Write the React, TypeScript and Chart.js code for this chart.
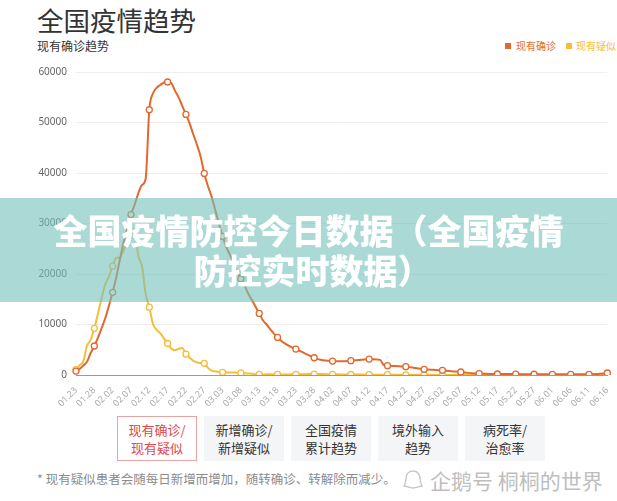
import React, { useEffect, useRef } from 'react';
import { Chart, registerables } from 'chart.js';

Chart.register(...registerables);

// ---- data ----
const START_DATE = { year: 2020, month: 1, day: 23 };
const DAY_COUNT = 146;

const tickLabels = [
  '01.23', '01.28', '02.02', '02.07', '02.12', '02.17', '02.22', '02.27', '03.03', '03.08',
  '03.13', '03.18', '03.23', '03.28', '04.02', '04.07', '04.12', '04.17', '04.22', '04.27',
  '05.02', '05.07', '05.12', '05.17', '05.22', '05.27', '06.01', '06.06', '06.11', '06.16',
];

const categories: string[] = (() => {
  const out: string[] = [];
  const d = new Date(Date.UTC(START_DATE.year, START_DATE.month - 1, START_DATE.day));
  for (let i = 0; i < DAY_COUNT; i++) {
    const mm = String(d.getUTCMonth() + 1).padStart(2, '0');
    const dd = String(d.getUTCDate()).padStart(2, '0');
    out.push(`${mm}.${dd}`);
    d.setUTCDate(d.getUTCDate() + 1);
  }
  return out;
})();

const yTicks = [0, 10000, 20000, 30000, 40000, 50000, 60000];

// 现有确诊 (daily)
const existingConfirmed = [
  // Jan 23-31
  771, 1208, 1870, 2613, 4349, 5739, 7417, 9308, 11289,
  // Feb
  13748, 16369, 19381, 22942, 26302, 28985, 31774, 33738, 35982, 37626,
  38800, 52526, 55748, 56873, 57416, 57934, 58016, 57805, 56303, 54965,
  53284, 51606, 49824, 47672, 45604, 43258, 39919, 37414, 35329,
  // Mar
  32652, 30004, 27433, 25352, 23784, 22177, 20533, 19016, 17721, 16145,
  14831, 13526, 12190, 10830, 10000, 9100, 8200, 7440, 6800, 6250,
  5800, 5450, 5130, 4800, 4450, 4100, 3750, 3420, 3150, 2950, 2850,
  // Apr
  2800, 2760, 2720, 2700, 2710, 2760, 2830, 2900, 2960, 3020,
  3090, 3160, 3120, 3080, 3000, 1950, 1840, 1800, 1760, 1720,
  1680, 1640, 1560, 1450, 1330, 1220, 1120, 1080, 1040, 1000,
  // May
  960, 920, 850, 780, 710, 650, 590, 500, 420, 360,
  310, 280, 250, 230, 215, 205, 195, 190, 185, 180,
  175, 170, 165, 160, 158, 155, 152, 150, 148, 146, 145,
  // Jun 1-16
  143, 140, 138, 136, 135, 133, 132, 130, 130, 132, 140, 155, 190, 250, 320, 400,
];

// 现有疑似 (daily)
const existingSuspected = [
  // Jan 23-31
  1072, 1965, 2684, 5794, 6973, 9239, 12167, 15238, 17988,
  // Feb
  19544, 21558, 23214, 23260, 24702, 26359, 27657, 28942, 23589, 21675,
  16067, 13435, 10109, 8969, 8228, 7264, 6242, 5248, 4922, 5206,
  5365, 4148, 3434, 2824, 2491, 2358, 2308, 1418, 851,
  // Mar
  715, 587, 520, 522, 482, 502, 458, 421, 349, 285,
  253, 147, 115, 113, 134, 128, 119, 105, 104, 106,
  118, 136, 132, 134, 159, 189, 184, 174, 168, 183, 172,
  // Apr
  153, 135, 130, 123, 119, 105, 95, 88, 80, 76,
  72, 72, 70, 67, 63, 60, 55, 50, 47, 45,
  44, 43, 40, 38, 35, 33, 30, 28, 25, 22,
  // May
  20, 18, 16, 15, 14, 13, 12, 11, 10, 10,
  9, 9, 8, 8, 8, 7, 7, 7, 6, 6,
  6, 6, 5, 5, 5, 5, 5, 4, 4, 4, 4,
  // Jun 1-16
  4, 4, 3, 3, 3, 3, 3, 3, 3, 3, 4, 5, 6, 7, 8, 9,
];

const seriesNames = ['现有确诊', '现有疑似'];
const seriesColors = ['#E2692E', '#F6BD37'];

const buttonLabels = [
  ['现有确诊/', '现有疑似'],
  ['新增确诊/', '新增疑似'],
  ['全国疫情', '累计趋势'],
  ['境外输入', '趋势'],
  ['病死率/', '治愈率'],
];

const CJK = '"Noto Sans CJK SC", "Noto Sans", sans-serif';

export default function App() {
  const canvasRef = useRef<HTMLCanvasElement | null>(null);

  useEffect(() => {
    if (!canvasRef.current) return;
    const radius = (ctx: any) => (tickLabels.includes(categories[ctx.dataIndex]) ? 3 : 0);
    const makeDataset = (idx: number, data: number[]) => ({
      label: seriesNames[idx],
      data,
      borderColor: seriesColors[idx],
      backgroundColor: seriesColors[idx],
      borderWidth: 2,
      pointRadius: radius,
      pointHoverRadius: radius,
      pointBackgroundColor: '#ffffff',
      pointBorderColor: seriesColors[idx],
      pointBorderWidth: 1.3,
      cubicInterpolationMode: 'monotone',
      fill: false,
    });
    const chart = new Chart(canvasRef.current, {
      type: 'line',
      data: {
        labels: categories,
        datasets: [makeDataset(0, existingConfirmed), makeDataset(1, existingSuspected)],
      },
      options: {
        responsive: false,
        animation: false,
        layout: { padding: { top: 8, right: 8, left: 0, bottom: 0 } },
        plugins: { legend: { display: false }, tooltip: { enabled: false } },
        scales: {
          x: {
            type: 'category',
            grid: { display: false },
            border: { display: true, color: '#9a9a9a', width: 1 },
            ticks: {
              autoSkip: false,
              minRotation: 45,
              maxRotation: 45,
              padding: 2,
              color: '#aaaaaa',
              font: { family: '"Noto Sans", sans-serif', size: 9 },
              callback: (_v: any, i: number) => (tickLabels.includes(categories[i]) ? categories[i] : ''),
            },
            afterFit: (scale: any) => {
              scale.height = 35;
            },
          },
          y: {
            min: 0,
            max: 60000,
            grid: { color: '#eeeeee', lineWidth: 1, drawTicks: false },
            border: { display: false },
            afterBuildTicks: (scale: any) => {
              scale.ticks = yTicks.map((v) => ({ value: v }));
            },
            ticks: {
              padding: 9,
              color: '#666666',
              font: { family: '"Noto Sans", sans-serif', size: 10 },
              callback: (v: any) => String(v),
            },
            afterFit: (scale: any) => {
              scale.width = 76;
            },
          },
        },
      },
    } as any);
    return () => chart.destroy();
  }, []);

  return (
    <div
      style={{
        position: 'fixed',
        left: 0,
        top: 0,
        width: 617,
        height: 501,
        background: '#ffffff',
        overflow: 'hidden',
        fontFamily: CJK,
      }}
    >
      <div style={{ position: 'absolute', left: 37, top: 2, fontSize: 26.5, color: '#333', fontWeight: 400, lineHeight: '36px', whiteSpace: 'nowrap' }}>
        全国疫情趋势
      </div>
      <div style={{ position: 'absolute', left: 37, top: 38, fontSize: 12, color: '#333', lineHeight: '16px', whiteSpace: 'nowrap' }}>
        现有确诊趋势
      </div>

      <span style={{ position: 'absolute', left: 505, top: 43, width: 6, height: 6, background: seriesColors[0] }} />
      <span style={{ position: 'absolute', left: 516, top: 39, fontSize: 10, lineHeight: '14px', color: seriesColors[0], whiteSpace: 'nowrap' }}>
        {seriesNames[0]}
      </span>
      <span style={{ position: 'absolute', left: 566, top: 43, width: 6, height: 6, background: seriesColors[1] }} />
      <span style={{ position: 'absolute', left: 576, top: 39, fontSize: 10, lineHeight: '14px', color: seriesColors[1], whiteSpace: 'nowrap' }}>
        {seriesNames[1]}
      </span>

      <canvas ref={canvasRef} width={617} height={353} style={{ position: 'absolute', left: 0, top: 57, width: 617, height: 353, display: 'block' }} />

      <div
        style={{
          position: 'absolute',
          left: 0,
          top: 198,
          width: 617,
          height: 104,
          background: 'rgba(115, 193, 187, 0.6)',
          display: 'flex',
          flexDirection: 'column',
          alignItems: 'center',
          justifyContent: 'center',
          color: '#ffffff',
          fontWeight: 900,
          fontSize: 34,
          lineHeight: '40px',
          textAlign: 'center',
        }}
      >
        <div style={{ whiteSpace: 'nowrap' }}>全国疫情防控今日数据（全国疫情</div>
        <div style={{ whiteSpace: 'nowrap', paddingLeft: 8 }}>防控实时数据）</div>
      </div>

      {buttonLabels.map((lines, i) => (
        <div
          key={i}
          style={{
            position: 'absolute',
            left: 117 + i * 87,
            top: 416,
            width: 80,
            height: 45,
            boxSizing: 'border-box',
            border: i === 0 ? '1px solid #e9a3a3' : '1px solid transparent',
            background: i === 0 ? '#ffffff' : '#f4f5f7',
            color: i === 0 ? '#e0474c' : '#333333',
            fontSize: 13,
            lineHeight: '18px',
            display: 'flex',
            flexDirection: 'column',
            alignItems: 'center',
            justifyContent: 'center',
            whiteSpace: 'nowrap',
          }}
        >
          <div>{lines[0]}</div>
          <div>{lines[1]}</div>
        </div>
      ))}

      <div style={{ position: 'absolute', left: 37, top: 471, fontSize: 12.5, color: '#8c8c8c', lineHeight: '16px', whiteSpace: 'nowrap' }}>
        * 现有疑似患者会随每日新增而增加，随转确诊、转解除而减少。
      </div>
      <div style={{ position: 'absolute', left: 402, top: 467, display: 'flex', alignItems: 'center', opacity: 0.55, whiteSpace: 'nowrap' }}>
        <svg width="22" height="22" viewBox="0 0 22 22" style={{ marginRight: 6 }}>
          <path d="M11 2 C6 2 4 6 4 10 C4 13 3 15 2 17 C5 17 7 19 11 19 C15 19 17 17 20 17 C19 15 18 13 18 10 C18 6 16 2 11 2 Z" fill="none" stroke="#9a9a9a" strokeWidth="1.4" />
        </svg>
        <span style={{ fontSize: 21, color: '#8a8a8a', lineHeight: '26px' }}>企鹅号 桐桐的世界</span>
      </div>
    </div>
  );
}
